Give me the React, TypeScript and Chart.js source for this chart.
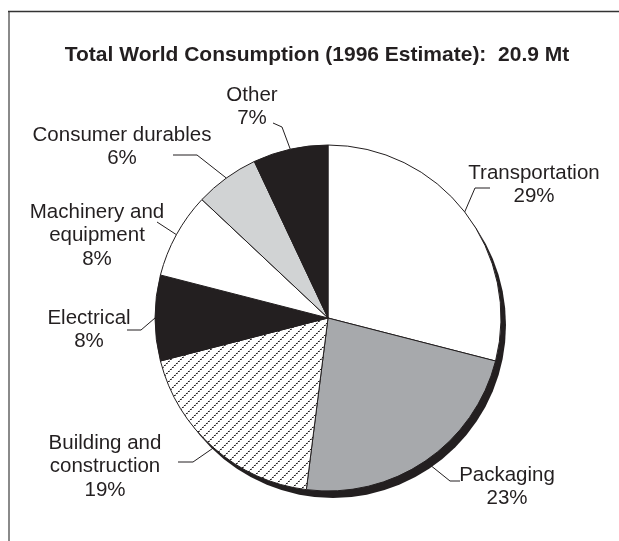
import { useEffect, useRef } from "react";
import { Chart, registerables } from "chart.js";

Chart.register(...registerables);

// ---- data ----
const titleText = "Total World Consumption (1996 Estimate):  20.9 Mt";
const categories = [
  "Transportation",
  "Packaging",
  "Building and construction",
  "Electrical",
  "Machinery and equipment",
  "Consumer durables",
  "Other",
];
const shares = [29, 23, 19, 8, 8, 6, 7];
const labelNameLines = [
  ["Transportation"],
  ["Packaging"],
  ["Building and", "construction"],
  ["Electrical"],
  ["Machinery and", "equipment"],
  ["Consumer durables"],
  ["Other"],
];

// ---- styling / layout ----
const INK = "#231f20";
const sliceColors = ["#ffffff", "#a7a9ac", "HATCH", INK, "#ffffff", "#d1d3d4", INK];
// label layout: text centre x, first line y, elbow and end of the leader line
const labelLayout = [
  { cx: 534, y: 173, elbow: [475, 188], end: [490, 188] },
  { cx: 507, y: 475, elbow: [450, 481], end: [460, 481] },
  { cx: 105, y: 443, elbow: [193, 462], end: [178, 462] },
  { cx: 89, y: 318, elbow: [141, 330], end: [127, 330] },
  { cx: 97, y: 212, elbow: [157, 222], end: [157, 222] },
  { cx: 122, y: 135, elbow: [197, 155], end: [173, 155] },
  { cx: 252, y: 95, elbow: [282, 127], end: [273, 123] },
];
const LINE_H = 23.5;
const LABEL_FONT = "20.5px 'Liberation Sans', Arial, sans-serif";
const TITLE_FONT = "bold 21px 'Liberation Sans', Arial, sans-serif";

function makeHatch(): CanvasPattern | string {
  const s = 10;
  const c = document.createElement("canvas");
  c.width = s;
  c.height = s;
  const g = c.getContext("2d");
  if (!g) return "#fff";
  g.fillStyle = "#ffffff";
  g.fillRect(0, 0, s, s);
  for (let i = 0; i < s; i++) {
    const yy = s - 1 - i;
    if (i % 2 === 0) {
      g.fillStyle = INK;
      g.fillRect(i, yy, 1, 1);
      g.fillStyle = "rgba(35,31,32,0.7)";
      g.fillRect((i + 1) % s, yy, 1, 1);
    } else {
      g.fillStyle = "rgba(35,31,32,0.3)";
      g.fillRect(i, yy, 1, 1);
    }
  }
  const p = g.createPattern(c, "repeat");
  return p || "#fff";
}

const decorPlugin = {
  id: "decor",
  beforeDraw(chart: any) {
    const ctx = chart.ctx;
    ctx.save();
    ctx.fillStyle = "#ffffff";
    ctx.fillRect(0, 0, chart.width, chart.height);
    // frame
    ctx.strokeStyle = "#8a8a8a";
    ctx.lineWidth = 2;
    ctx.beginPath();
    ctx.moveTo(9, 11);
    ctx.lineTo(9, chart.height);
    ctx.stroke();
    ctx.strokeStyle = "#333333";
    ctx.lineWidth = 1.3;
    ctx.beginPath();
    ctx.moveTo(8, 11.5);
    ctx.lineTo(chart.width, 11.5);
    ctx.stroke();
    // title
    ctx.fillStyle = INK;
    ctx.font = TITLE_FONT;
    ctx.textAlign = "center";
    ctx.textBaseline = "middle";
    ctx.fillText(titleText, 317, 55);
    ctx.restore();
  },
  beforeDatasetsDraw(chart: any) {
    const meta = chart.getDatasetMeta(0);
    const arc = meta.data[0];
    if (!arc) return;
    const { x, y, outerRadius } = arc.getProps(["x", "y", "outerRadius"], true);
    const ctx = chart.ctx;
    ctx.save();
    ctx.fillStyle = INK;
    ctx.beginPath();
    ctx.arc(x + 5, y + 7, outerRadius, 0, Math.PI * 2);
    ctx.fill();
    ctx.restore();
  },
  afterDatasetsDraw(chart: any) {
    const meta = chart.getDatasetMeta(0);
    const ctx = chart.ctx;
    ctx.save();
    meta.data.forEach((el: any, i: number) => {
      const { x, y, startAngle, endAngle, outerRadius } = el.getProps(
        ["x", "y", "startAngle", "endAngle", "outerRadius"],
        true
      );
      const a = (startAngle + endAngle) / 2;
      const ex = x + outerRadius * Math.cos(a);
      const ey = y + outerRadius * Math.sin(a);
      const L = labelLayout[i];
      ctx.strokeStyle = INK;
      ctx.lineWidth = 1;
      ctx.beginPath();
      ctx.moveTo(ex, ey);
      ctx.lineTo(L.elbow[0], L.elbow[1]);
      ctx.lineTo(L.end[0], L.end[1]);
      ctx.stroke();
      const lines = [...labelNameLines[i], `${shares[i]}%`];
      ctx.fillStyle = INK;
      ctx.font = LABEL_FONT;
      ctx.textAlign = "center";
      ctx.textBaseline = "middle";
      lines.forEach((t, k) => ctx.fillText(t, L.cx, L.y + k * LINE_H));
    });
    ctx.restore();
  },
};

export default function App() {
  const ref = useRef<HTMLCanvasElement | null>(null);
  useEffect(() => {
    if (!ref.current) return;
    const hatch = makeHatch();
    const colors = sliceColors.map((c) => (c === "HATCH" ? hatch : c));
    const chart = new Chart(ref.current, {
      type: "pie",
      data: {
        labels: categories,
        datasets: [
          {
            data: shares,
            backgroundColor: colors as any,
            borderColor: INK,
            borderWidth: 1,
            hoverOffset: 0,
          },
        ],
      },
      options: {
        responsive: false,
        animation: false,
        radius: 173,
        layout: { padding: { left: 155, right: 118, top: 145, bottom: 50 } },
        plugins: {
          legend: { display: false },
          tooltip: { enabled: false },
          title: { display: false },
        },
      } as any,
      plugins: [decorPlugin],
    });
    return () => chart.destroy();
  }, []);
  return (
    <div style={{ position: "fixed", left: 0, top: 0, width: 619, height: 541 }}>
      <canvas ref={ref} width={619} height={541} style={{ display: "block" }} />
    </div>
  );
}
